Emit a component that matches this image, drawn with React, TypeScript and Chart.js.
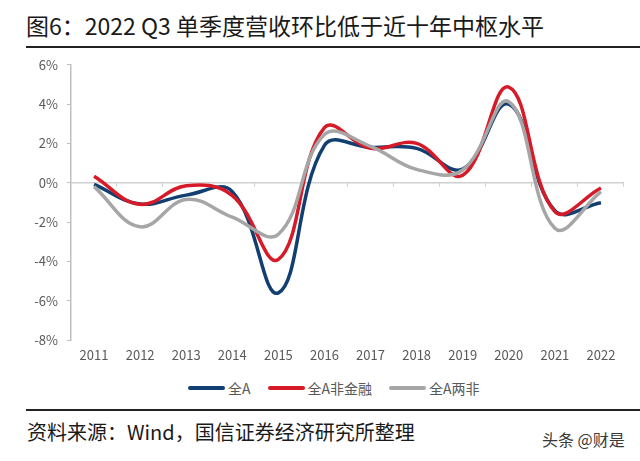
import React, { useEffect, useRef } from "react";
import { Chart, registerables } from "chart.js";

Chart.register(...registerables);

const years = ["2011", "2012", "2013", "2014", "2015", "2016", "2017", "2018", "2019", "2020", "2021", "2022"];
const allA = [-0.08, -1.08, -0.63, -0.45, -5.6, 1.9, 1.8, 1.75, 0.7, 4.0, -1.42, -1.02];
const allANonFin = [0.33, -1.1, -0.15, -0.65, -3.9, 2.8, 1.75, 2.0, 0.38, 4.87, -1.47, -0.27];
const allATwoNon = [-0.2, -2.24, -0.85, -1.75, -2.62, 2.45, 1.85, 0.68, 0.65, 4.12, -2.32, -0.45];
const yTicks = [-8, -6, -4, -2, 0, 2, 4, 6];

const seriesNames = ["全A", "全A非金融", "全A两非"];
const seriesColors = ["#123f72", "#d71a28", "#a6a6a6"];

const titleText = "图6：2022 Q3 单季度营收环比低于近十年中枢水平";
const sourceText = "资料来源：Wind，国信证券经济研究所整理";
const watermark = "头条 @财是";

const FONT = "'Noto Sans CJK SC', 'Noto Sans', sans-serif";

const zeroLinePlugin = {
  id: "zeroLine",
  beforeDatasetsDraw(chart: any) {
    const { ctx, chartArea, scales } = chart;
    const y0 = scales.y.getPixelForValue(0);
    ctx.save();
    ctx.strokeStyle = "#d0d0d0";
    ctx.lineWidth = 1.5;
    ctx.beginPath();
    ctx.moveTo(chartArea.left, y0);
    ctx.lineTo(chartArea.right, y0);
    ctx.stroke();
    const n = years.length;
    const step = (chartArea.right - chartArea.left) / n;
    ctx.lineWidth = 1;
    ctx.beginPath();
    for (let i = 1; i <= n; i++) {
      const x = Math.round(chartArea.left + i * step) - 0.5;
      ctx.moveTo(x, y0);
      ctx.lineTo(x, y0 + 4);
    }
    ctx.stroke();
    ctx.restore();
  },
};

export default function App() {
  const ref = useRef<HTMLCanvasElement | null>(null);
  useEffect(() => {
    if (!ref.current) return;
    const data = [allA, allANonFin, allATwoNon];
    const chart = new Chart(ref.current, {
      type: "line",
      data: {
        labels: years,
        datasets: data.map((d, i) => ({
          label: seriesNames[i],
          data: d,
          borderColor: seriesColors[i],
          backgroundColor: seriesColors[i],
          borderWidth: 3.5,
          pointRadius: 0,
          tension: 0.4,
          fill: false,
          order: 2 - i,
        })),
      },
      options: {
        animation: false,
        responsive: false,
        maintainAspectRatio: false,
        layout: { padding: { top: 3, right: 16, left: 0, bottom: 0 } },
        plugins: { legend: { display: false }, tooltip: { enabled: false }, title: { display: false } },
        scales: {
          x: {
            type: "category",
            offset: true,
            grid: { display: false, drawTicks: false },
            border: { display: false },
            ticks: { color: "#595959", font: { family: FONT, size: 13 }, padding: 7, maxRotation: 0 },
            afterFit: (s: any) => { s.height = 30; },
          },
          y: {
            min: -8,
            max: 6,
            afterBuildTicks: (s: any) => { s.ticks = yTicks.map((v) => ({ value: v })); },
            grid: { drawOnChartArea: false, tickLength: 4, color: "#bfbfbf" },
            border: { color: "#bfbfbf", width: 1.5 },
            ticks: {
              color: "#595959",
              font: { family: FONT, size: 13 },
              padding: 9,
              callback: (v: any) => `${v}%`,
            },
            afterFit: (s: any) => { s.width = 71; },
          },
        },
      },
      plugins: [zeroLinePlugin],
    });
    return () => chart.destroy();
  }, []);

  return (
    <div style={{ position: "absolute", left: 0, top: 0, width: 640, height: 461, background: "#ffffff", fontFamily: FONT, overflow: "hidden" }}>
      <div style={{ position: "absolute", left: 26, top: 14, fontSize: 23, lineHeight: "23px", color: "#1a1a1a", whiteSpace: "nowrap" }}>{titleText}</div>
      <div style={{ position: "absolute", left: 26, top: 46, width: 614, height: 1.5, background: "#222" }} />
      <canvas ref={ref} width={640} height={322} style={{ position: "absolute", left: 0, top: 48, width: 640, height: 322 }} />
      <div style={{ position: "absolute", left: 188, top: 379, height: 18, display: "flex", alignItems: "center", fontSize: 14, color: "#595959", whiteSpace: "nowrap" }}>
        {seriesNames.map((n, i) => (
          <div key={n} style={{ display: "flex", alignItems: "center", marginRight: 17 }}>
            <div style={{ width: 37, height: 3.5, background: seriesColors[i], borderRadius: 2, marginRight: 3 }} />
            <span>{n}</span>
          </div>
        ))}
      </div>
      <div style={{ position: "absolute", left: 26, top: 409, width: 614, height: 1.5, background: "#222" }} />
      <div style={{ position: "absolute", left: 27, top: 422, fontSize: 20, lineHeight: "20px", color: "#1a1a1a", whiteSpace: "nowrap" }}>{sourceText}</div>
      <div style={{ position: "absolute", left: 542, top: 431, fontSize: 16, lineHeight: "16px", color: "#3a3a3a", whiteSpace: "nowrap" }}>{watermark}</div>
    </div>
  );
}
